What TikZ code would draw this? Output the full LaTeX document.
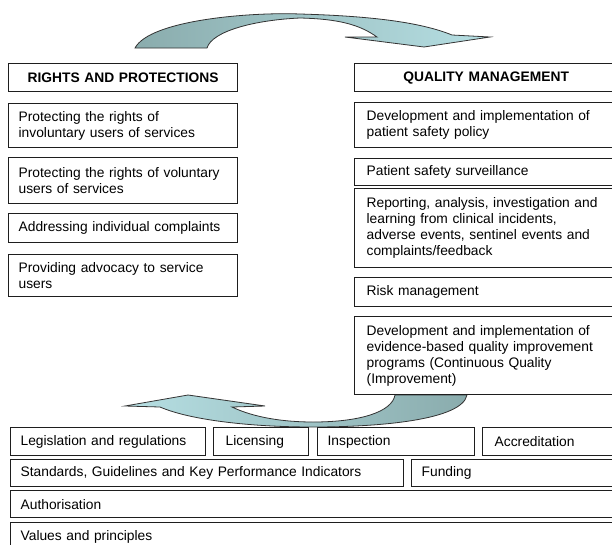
\documentclass[tikz,border=0pt]{standalone}
\usepackage{fontspec}
\setmainfont{Liberation Sans}
\definecolor{arrdark}{RGB}{138,172,173}
\definecolor{arrlight}{RGB}{182,223,227}
\definecolor{boxline}{RGB}{30,30,30}
\begin{document}
\begin{tikzpicture}[x=1pt,y=-1pt,
  font=\fontsize{13.8}{16}\selectfont,
  box/.style={draw=boxline, line width=1.3pt, rectangle, anchor=north west,
    inner xsep=10pt, inner ysep=0pt, align=left},
  rbox/.style={box, inner xsep=12pt},
  title/.style={box, align=center, font=\fontsize{13.8}{16}\selectfont\bfseries},
  bigarrow/.style={draw=black!80, line width=0.8pt}]
\useasboundingbox (0,0) rectangle (612,544);

% top curved arrow
\path[bigarrow, left color=arrdark, right color=arrlight]
  (135,48) .. controls (150,20) and (250,12) .. (300,14)
  .. controls (370,16) and (420,22) .. (452,35)
  -- (490,37) -- (424,47) -- (345,37) -- (377,37)
  .. controls (360,25) and (340,19) .. (300,18)
  .. controls (255,20) and (212,31) .. (207,48) -- cycle;

% bottom curved arrow
\path[bigarrow, left color=arrlight, right color=arrdark]
  (467,395) .. controls (462,420) and (380,427) .. (313,427)
  .. controls (250,427) and (190,420) .. (160,407)
  -- (125,406) -- (188,395) -- (265,406) -- (232,407)
  .. controls (255,418) and (285,422) .. (313,422)
  .. controls (360,422) and (392,412) .. (395,395) -- cycle;

% left column
\node[title, minimum width=229pt, minimum height=28pt, text width=209pt] (rpt) at (8,63) {RIGHTS AND PROTECTIONS};
\node[box, minimum width=229pt, minimum height=44pt, text width=209pt] (rp1) at (8,103) {Protecting the rights of\\involuntary users of services};
\node[box, minimum width=229pt, minimum height=46pt, text width=209pt] (rp2) at (8,157) {Protecting the rights of voluntary\\users of services};
\node[box, minimum width=229pt, minimum height=29pt, text width=209pt] (rp3) at (8,213) {Addressing individual complaints};
\node[box, minimum width=229pt, minimum height=42pt, text width=209pt] (rp4) at (8,254) {Providing advocacy to service\\users};

% right column
\node[title, minimum width=263pt, minimum height=28pt, text width=243pt] (qmt) at (354,63) {QUALITY MANAGEMENT};
\node[rbox, minimum width=263pt, minimum height=45pt, text width=239pt] (qm1) at (354,102) {Development and implementation of\\patient safety policy};
\node[rbox, minimum width=263pt, minimum height=27pt, text width=239pt] (qm2) at (354,158) {Patient safety surveillance};
\node[rbox, minimum width=263pt, minimum height=79pt, text width=239pt] (qm3) at (354,188) {Reporting, analysis, investigation and\\learning from clinical incidents,\\adverse events, sentinel events and\\complaints/feedback};
\node[rbox, minimum width=263pt, minimum height=29pt, text width=239pt] (qm4) at (354,277) {Risk management};
\node[rbox, minimum width=263pt, minimum height=78pt, text width=239pt] (qm5) at (354,316) {Development and implementation of\\evidence-based quality improvement\\programs (Continuous Quality\\(Improvement)};

% bottom rows
\node[box, minimum width=195pt, minimum height=28pt, text width=175pt] (leg) at (10,427) {Legislation and regulations};
\node[box, minimum width=95pt, minimum height=28pt, text width=75pt, inner xsep=10pt] (lic) at (213,427) {\hspace*{2pt}Licensing};
\node[box, minimum width=157pt, minimum height=28pt, text width=137pt] (ins) at (317,427) {Inspection};
\node[box, minimum width=135pt, minimum height=28pt, text width=115pt] (acc) at (482,427) {\hspace*{2pt}Accreditation};
\node[box, minimum width=393pt, minimum height=27pt, text width=373pt] (std) at (10,459) {Standards, Guidelines and Key Performance Indicators};
\node[box, minimum width=206pt, minimum height=27pt, text width=186pt] (fun) at (411,459) {Funding};
\node[box, minimum width=607pt, minimum height=27pt, text width=587pt] (aut) at (10,490) {Authorisation};
\node[box, minimum width=607pt, minimum height=28pt, text width=587pt] (val) at (10,522) {Values and principles};
\end{tikzpicture}
\end{document}
